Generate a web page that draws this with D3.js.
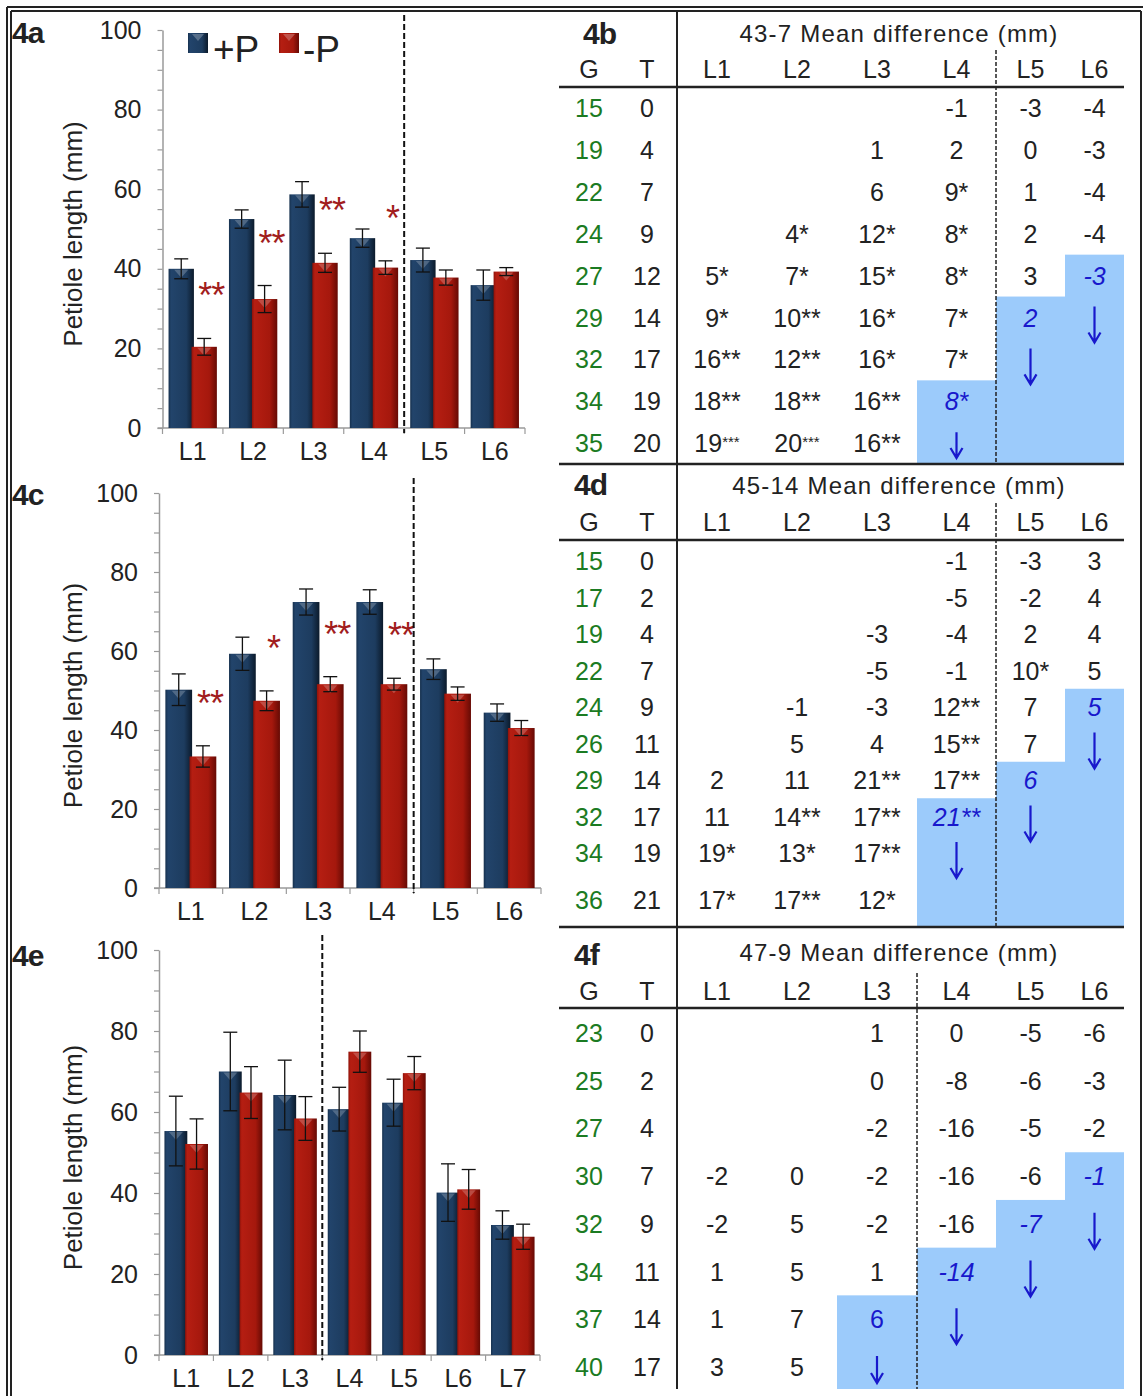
<!DOCTYPE html>
<html>
<head>
<meta charset="utf-8">
<script src="https://d3js.org/d3.v7.min.js"></script>
<style>
  body { margin: 0; background: #fff; }
  svg text { font-family: "Liberation Sans", Arial, Helvetica, sans-serif; fill: #222; }
</style>
</head>
<body>
<svg id="fig" width="1143" height="1396"></svg>
<script>
// ---------- panel 4a ----------
var catsA = ["L1", "L2", "L3", "L4", "L5", "L6"];
var plusA = [40, 52.5, 58.7, 47.7, 42.2, 35.9];
var minusA = [20.4, 32.4, 41.5, 40.3, 37.8, 39.3];
var plusErrA = [2.5, 2.3, 3.2, 2.3, 3.0, 3.8];
var minusErrA = [2.1, 3.4, 2.4, 1.7, 1.9, 1.0];
var starsA = ["**", "**", "**", "*", "", ""];

// ---------- panel 4c ----------
var catsC = ["L1", "L2", "L3", "L4", "L5", "L6"];
var plusC = [50.2, 59.3, 72.4, 72.4, 55.4, 44.4];
var minusC = [33.3, 47.4, 51.6, 51.6, 49.2, 40.5];
var plusErrC = [4.0, 4.2, 3.3, 3.1, 2.6, 2.2];
var minusErrC = [2.7, 2.5, 1.9, 1.5, 1.7, 1.9];
var starsC = ["**", "*", "**", "**", "", ""];

// ---------- panel 4e ----------
var catsE = ["L1", "L2", "L3", "L4", "L5", "L6", "L7"];
var plusE = [55.3, 70, 64.2, 60.7, 62.3, 40.1, 32.1];
var minusE = [52.1, 64.8, 58.4, 74.9, 69.6, 40.9, 29.2];
var plusErrE = [8.6, 9.7, 8.6, 5.4, 5.8, 7.1, 3.5];
var minusErrE = [6.2, 6.4, 5.4, 5.1, 4.1, 4.9, 3.1];
var starsE = ["", "", "", "", "", "", ""];

var yTicks = [0, 20, 40, 60, 80, 100];
var legendNames = ["+P", "-P"];

// ---------- tables ----------
var leafCols = ["L1", "L2", "L3", "L4", "L5", "L6"];

var titleB = "43-7 Mean difference (mm)";
var gB = [15, 19, 22, 24, 27, 29, 32, 34, 35];
var tB = [0, 4, 7, 9, 12, 14, 17, 19, 20];
var cellsB = [
  ["", "", "", "-1", "-3", "-4"],
  ["", "", "1", "2", "0", "-3"],
  ["", "", "6", "9*", "1", "-4"],
  ["", "4*", "12*", "8*", "2", "-4"],
  ["5*", "7*", "15*", "8*", "3", "-3"],
  ["9*", "10**", "16*", "7*", "2", ""],
  ["16**", "12**", "16*", "7*", "", ""],
  ["18**", "18**", "16**", "8*", "", ""],
  ["19***", "20***", "16**", "", "", ""]
];
var blueStartB = [null, null, null, 7, 5, 4];

var titleD = "45-14 Mean difference (mm)";
var gD = [15, 17, 19, 22, 24, 26, 29, 32, 34, 36];
var tD = [0, 2, 4, 7, 9, 11, 14, 17, 19, 21];
var cellsD = [
  ["", "", "", "-1", "-3", "3"],
  ["", "", "", "-5", "-2", "4"],
  ["", "", "-3", "-4", "2", "4"],
  ["", "", "-5", "-1", "10*", "5"],
  ["", "-1", "-3", "12**", "7", "5"],
  ["", "5", "4", "15**", "7", ""],
  ["2", "11", "21**", "17**", "6", ""],
  ["11", "14**", "17**", "21**", "", ""],
  ["19*", "13*", "17**", "", "", ""],
  ["17*", "17**", "12*", "", "", ""]
];
var blueStartD = [null, null, null, 7, 6, 4];

var titleF = "47-9 Mean difference (mm)";
var gF = [23, 25, 27, 30, 32, 34, 37, 40];
var tF = [0, 2, 4, 7, 9, 11, 14, 17];
var cellsF = [
  ["", "", "1", "0", "-5", "-6"],
  ["", "", "0", "-8", "-6", "-3"],
  ["", "", "-2", "-16", "-5", "-2"],
  ["-2", "0", "-2", "-16", "-6", "-1"],
  ["-2", "5", "-2", "-16", "-7", ""],
  ["1", "5", "1", "-14", "", ""],
  ["1", "7", "6", "", "", ""],
  ["3", "5", "", "", "", ""]
];
var blueStartF = [null, null, 6, 5, 4, 3];

// ---------- drawing ----------
var svg = d3.select("#fig");
var defs = svg.append("defs");

function grad(id, stops) {
  var lg = defs.append("linearGradient").attr("id", id)
    .attr("x1", 0).attr("x2", 1).attr("y1", 0).attr("y2", 0);
  stops.forEach(function(s) {
    lg.append("stop").attr("offset", s[0]).attr("stop-color", s[1]);
  });
}
grad("gBlue", [[0, "#16304d"], [0.1, "#22446b"], [0.7, "#1d3c5f"], [1, "#0b1a2b"]]);
grad("gRed", [[0, "#8e1209"], [0.1, "#b51e12"], [0.7, "#a5180d"], [1, "#660a04"]]);

var ink = "#222";
var blueText = "#1818cc";
var blueFill = "#9ccbfb";
var starRed = "#a11d1d";
var axisGrey = "#9a9a9a";

// outer double frame
var frame = svg.append("g").attr("stroke", ink).attr("stroke-width", 2);
frame.append("line").attr("x1", 7).attr("y1", 7).attr("x2", 1143).attr("y2", 7);
frame.append("line").attr("x1", 11).attr("y1", 11).attr("x2", 1141).attr("y2", 11);
frame.append("line").attr("x1", 7).attr("y1", 7).attr("x2", 7).attr("y2", 1396);
frame.append("line").attr("x1", 11).attr("y1", 11).attr("x2", 11).attr("y2", 1396);
frame.append("line").attr("x1", 1141).attr("y1", 11).attr("x2", 1141).attr("y2", 1396);

function drawChart(c) {
  var g = svg.append("g");
  var x = d3.scaleBand().domain(c.cats).range([c.x0, c.x1]);
  var y = d3.scaleLinear().domain([0, 100]).range([c.y0, c.y100]);
  var bw = x.bandwidth();
  var pad = 0.1 * bw, w = 0.42 * bw, lap = 0.04 * bw;

  // y axis
  var ya = g.append("g").attr("transform", "translate(" + c.x0 + ",0)")
    .call(d3.axisLeft(y).tickValues(d3.range(0, 101, 5)).tickSize(5).tickSizeOuter(0).tickPadding(16)
      .tickFormat(function(d) { return yTicks.indexOf(d) >= 0 ? d : ""; }));
  ya.select(".domain").attr("stroke", axisGrey).attr("stroke-width", 1.5);
  ya.selectAll(".tick line").attr("stroke", axisGrey).attr("stroke-width", 1.2);
  ya.selectAll(".tick text").style("font-size", "25px").attr("fill", ink);

  // x axis labels
  var xa = g.append("g").attr("transform", "translate(0," + c.y0 + ")")
    .call(d3.axisBottom(x).tickSize(0).tickPadding(14));
  xa.select(".domain").remove();
  xa.selectAll(".tick text").style("font-size", "25px").attr("fill", ink);
  g.append("line").attr("x1", c.x0 - 5).attr("x2", c.x1).attr("y1", c.y0).attr("y2", c.y0)
    .attr("stroke", axisGrey).attr("stroke-width", 1.5);
  g.selectAll(".xb").data(c.cats.concat(["end"])).enter().append("line")
    .attr("x1", function(d) { return d === "end" ? c.x1 : x(d); })
    .attr("x2", function(d) { return d === "end" ? c.x1 : x(d); })
    .attr("y1", c.y0).attr("y2", c.y0 + 6)
    .attr("stroke", axisGrey).attr("stroke-width", 1.2);

  // bars
  var series = [
    { vals: c.plus, errs: c.plusErr, fill: "url(#gBlue)", off: pad },
    { vals: c.minus, errs: c.minusErr, fill: "url(#gRed)", off: pad + w - lap }
  ];
  series.forEach(function(s) {
    var bars = g.append("g");
    bars.selectAll("rect").data(c.cats).enter().append("rect")
      .attr("x", function(d) { return x(d) + s.off; })
      .attr("width", w)
      .attr("y", function(d, i) { return y(s.vals[i]); })
      .attr("height", function(d, i) { return y(0) - y(s.vals[i]); })
      .attr("fill", s.fill);
    bars.selectAll("path").data(c.cats).enter().append("path")
      .attr("d", function(d, i) {
        var cx = x(d) + s.off + w / 2, t = y(s.vals[i]) + 1;
        return "M" + (cx - 7) + "," + t + "L" + (cx + 7) + "," + t + "L" + cx + "," + (t + 8) + "Z";
      })
      .attr("fill", "#fff").attr("opacity", 0.22);
    // error bars
    var eb = g.append("g").attr("stroke", "#111").attr("stroke-width", 1.3);
    c.cats.forEach(function(d, i) {
      var cx = x(d) + s.off + w / 2;
      var hi = y(s.vals[i] + s.errs[i]), lo = y(s.vals[i] - s.errs[i]);
      eb.append("line").attr("x1", cx).attr("x2", cx).attr("y1", hi).attr("y2", lo);
      eb.append("line").attr("x1", cx - 7).attr("x2", cx + 7).attr("y1", hi).attr("y2", hi);
      eb.append("line").attr("x1", cx - 7).attr("x2", cx + 7).attr("y1", lo).attr("y2", lo);
    });
  });

  // significance stars
  g.selectAll(".star").data(c.cats).enter().append("text")
    .attr("x", function(d) { return x(d) + pad + w - lap + w / 2 + 7; })
    .attr("y", function(d, i) { return y(c.minus[i] + c.minusErr[i]) - 50 + 20; })
    .attr("text-anchor", "middle")
    .style("font-size", "36px").style("fill", starRed).style("letter-spacing", "-1px")
    .text(function(d, i) { return c.stars[i]; });

  // dashed divider
  var dx = x(c.cats[c.divide]);
  g.append("line").attr("x1", dx).attr("x2", dx).attr("y1", c.y100 - 15).attr("y2", c.y0 + 5)
    .attr("stroke", "#111").attr("stroke-width", 2).attr("stroke-dasharray", "6,3");

  // y label
  g.append("text")
    .attr("transform", "translate(73," + ((c.y0 + c.y100) / 2 + 5) + ") rotate(-90)")
    .attr("text-anchor", "middle").attr("dy", "0.35em")
    .style("font-size", "26px").text("Petiole length (mm)");

  // panel label
  g.append("text").attr("x", 12).attr("y", c.labelY)
    .style("font-size", "30px").style("font-weight", "bold").style("letter-spacing", "-1px")
    .text(c.label);

  return { x: x, y: y };
}

drawChart({ cats: catsA, plus: plusA, minus: minusA, plusErr: plusErrA, minusErr: minusErrA, stars: starsA,
  x0: 162.5, x1: 525, y0: 428, y100: 30, divide: 4, label: "4a", labelY: 43 });
drawChart({ cats: catsC, plus: plusC, minus: minusC, plusErr: plusErrC, minusErr: minusErrC, stars: starsC,
  x0: 159, x1: 541, y0: 888, y100: 493, divide: 4, label: "4c", labelY: 505 });
drawChart({ cats: catsE, plus: plusE, minus: minusE, plusErr: plusErrE, minusErr: minusErrE, stars: starsE,
  x0: 159, x1: 540, y0: 1355, y100: 950, divide: 3, label: "4e", labelY: 966 });

// legend (4a)
var leg = svg.append("g");
[["url(#gBlue)", 188, 213], ["url(#gRed)", 279, 303]].forEach(function(l, i) {
  leg.append("rect").attr("x", l[1]).attr("y", 33).attr("width", 20).attr("height", 20).attr("fill", l[0]);
  leg.append("path")
    .attr("d", "M" + (l[1] + 4) + ",34L" + (l[1] + 16) + ",34L" + (l[1] + 10) + ",41Z")
    .attr("fill", "#fff").attr("opacity", 0.25);
  leg.append("text").attr("x", l[2]).attr("y", 62).style("font-size", "37px").text(legendNames[i]);
});

// ---------- tables ----------
var colNames = ["G", "T"].concat(leafCols);
var colX = d3.scaleOrdinal().domain(colNames).range([589, 647, 717, 797, 877, 956.5, 1030.5, 1094.5]);
var colLeft = d3.scaleOrdinal().domain(leafCols).range([677, 757, 837, 917, 996, 1065]);
var colRight = d3.scaleOrdinal().domain(leafCols).range([757, 837, 917, 996, 1065, 1124]);

function drawTable(t) {
  var g = svg.append("g");
  var n = t.G.length;
  var rowY = function(i) { return t.top + i * t.step + (i === n - 1 ? t.lastExtra : 0); };

  // blue staircase
  leafCols.forEach(function(col, j) {
    var s = t.blue[j];
    if (s === null) return;
    var top = (rowY(s - 1) + rowY(s)) / 2;
    g.append("rect").attr("x", colLeft(col)).attr("width", colRight(col) - colLeft(col))
      .attr("y", top).attr("height", t.bottom - top).attr("fill", blueFill);
  });

  // title + headers
  g.append("text").attr("x", t.labelX).attr("y", t.labelY)
    .style("font-size", "30px").style("font-weight", "bold").style("letter-spacing", "-1px").text(t.label);
  g.append("text").attr("x", 899).attr("y", t.titleY).attr("text-anchor", "middle")
    .style("font-size", "24px").style("letter-spacing", "1.2px").text(t.title);
  g.selectAll(".hd").data(colNames).enter().append("text")
    .attr("x", function(d) { return colX(d); }).attr("y", t.headY)
    .attr("text-anchor", "middle").style("font-size", "25px").text(function(d) { return d; });

  // G and T columns
  g.selectAll(".gv").data(t.G).enter().append("text")
    .attr("x", colX("G")).attr("y", function(d, i) { return rowY(i) + 9; })
    .attr("text-anchor", "middle").style("font-size", "25px").style("fill", "#1b7b22")
    .text(function(d) { return d; });
  g.selectAll(".tv").data(t.T).enter().append("text")
    .attr("x", colX("T")).attr("y", function(d, i) { return rowY(i) + 9; })
    .attr("text-anchor", "middle").style("font-size", "25px")
    .text(function(d) { return d; });

  // values
  t.cells.forEach(function(row, i) {
    row.forEach(function(v, j) {
      if (v === "") return;
      var isBlue = t.blue[j] === i;
      var m = v.match(/^(-?\d+)(\**)$/);
      var tx = g.append("text").attr("x", colX(leafCols[j])).attr("y", rowY(i) + 9)
        .attr("text-anchor", "middle").style("font-size", "25px");
      if (isBlue) {
        tx.style("fill", blueText);
        if (t.upright.indexOf(j) < 0) tx.style("font-style", "italic");
      }
      if (m[2].length === 3) {
        tx.append("tspan").text(m[1]);
        tx.append("tspan").attr("dy", -5).style("font-size", "15px").text(m[2]);
      } else {
        tx.text(v);
      }
    });
  });

  // arrows below each blue value
  leafCols.forEach(function(col, j) {
    var s = t.blue[j];
    if (s === null || s + 1 >= n) return;
    var cx = colX(col);
    var a = rowY(s + 1) - 11;
    var b = Math.min(a + 36, t.bottom - 6);
    g.append("path")
      .attr("d", "M" + cx + "," + a + "V" + b + "M" + (cx - 6) + "," + (b - 10) + "L" + cx + "," + b + "L" + (cx + 6) + "," + (b - 10))
      .attr("fill", "none").attr("stroke", blueText).attr("stroke-width", 2.2);
  });

  // rules
  g.append("line").attr("x1", 559).attr("x2", 1124).attr("y1", t.headLine).attr("y2", t.headLine)
    .attr("stroke", ink).attr("stroke-width", 2.5);
  if (t.bottomLine) {
    g.append("line").attr("x1", 559).attr("x2", 1124).attr("y1", t.bottom).attr("y2", t.bottom)
      .attr("stroke", ink).attr("stroke-width", 2.5);
  }
  var dx = colRight(leafCols[t.divide - 1]);
  g.append("line").attr("x1", dx).attr("x2", dx).attr("y1", t.dashTop).attr("y2", t.bottom)
    .attr("stroke", ink).attr("stroke-width", 1.5).attr("stroke-dasharray", "4,2");
}

drawTable({ label: "4b", labelX: 583, labelY: 44, title: titleB, titleY: 42, headY: 78, headLine: 87,
  G: gB, T: tB, cells: cellsB, blue: blueStartB, upright: [],
  top: 108, step: 41.9, lastExtra: 0, bottom: 464, bottomLine: true, divide: 4, dashTop: 50 });
drawTable({ label: "4d", labelX: 574, labelY: 495, title: titleD, titleY: 494, headY: 531, headLine: 540,
  G: gD, T: tD, cells: cellsD, blue: blueStartD, upright: [],
  top: 561, step: 36.5, lastExtra: 10.5, bottom: 927, bottomLine: true, divide: 4, dashTop: 503 });
drawTable({ label: "4f", labelX: 574, labelY: 965, title: titleF, titleY: 961, headY: 1000, headLine: 1008,
  G: gF, T: tF, cells: cellsF, blue: blueStartF, upright: [2],
  top: 1033, step: 47.7, lastExtra: 0, bottom: 1389, bottomLine: false, divide: 3, dashTop: 973 });

// table spine
svg.append("line").attr("x1", 677).attr("x2", 677).attr("y1", 11).attr("y2", 1389)
  .attr("stroke", ink).attr("stroke-width", 2);
</script>
</body>
</html>
